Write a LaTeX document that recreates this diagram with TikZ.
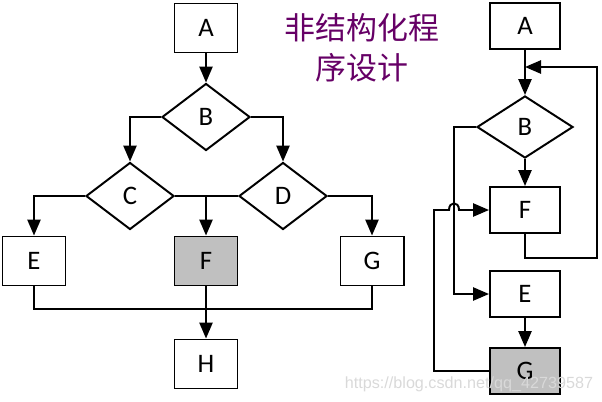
\documentclass[tikz,border=0pt]{standalone}
\usepackage{fontspec}
\setmainfont{Carlito}
\newfontfamily\cjkfont{Noto Sans CJK SC}
\newfontfamily\markfont{Liberation Sans}
\usetikzlibrary{arrows.meta,shapes.geometric}
\definecolor{titlepurple}{RGB}{102,0,102}
\definecolor{boxgray}{RGB}{192,192,192}
\tikzset{
    box/.style={draw, line width=1.4pt, inner sep=0pt, minimum width=1.575cm, minimum height=1.225cm, font=\fontsize{19}{19}\selectfont},
    rbox/.style={box, minimum width=1.75cm, minimum height=1.15cm},
    dia/.style={draw, diamond, line width=1.4pt, inner sep=0pt, minimum width=2.2cm, minimum height=1.675cm, font=\fontsize{19}{19}\selectfont},
    rdia/.style={dia, minimum width=2.4cm, minimum height=1.55cm},
    line/.style={line width=1.4pt},
    arr/.style={line, -{Triangle[length=0.4cm,width=0.33cm]}},
}

\begin{document}
\begin{tikzpicture}[x=0.025cm, y=-0.025cm]
\useasboundingbox (0,0) rectangle (602,401);

% left chart
\node[box] (la) at (206,28) {A};
\node[dia] (lb) at (206,117) {B};
\node[dia] (lc) at (130,196) {C};
\node[dia] (ld) at (283,196) {D};
\node[box] (le) at (34,261) {E};
\node[box, fill=boxgray] (lf) at (206,261) {F};
\node[box] (lg) at (372,261) {G};
\node[box] (lh) at (206,364) {H};
\coordinate (lj) at (206,309);

\draw[arr] (la) -- (lb);
\draw[arr] (lb.west) -| (lc.north);
\draw[arr] (lb.east) -| (ld.north);
\draw[arr] (lc.west) -| (le.north);
\draw[line] (lc.east) -- (ld.west);
\draw[arr] (lf.north |- lc.east) -- (lf);
\draw[arr] (ld.east) -| (lg.north);
\draw[line] (le.south) |- (lj) -| (lg.south);
\draw[arr] (lf) -- (lh);

% title
\node[text=titlepurple, align=center, font=\cjkfont\fontsize{22}{28.5}\selectfont] (title) at (362,48) {非结构化程\\序设计};

% right chart
\node[rbox] (ra) at (525,26) {A};
\node[rdia] (rb) at (525,127) {B};
\node[rbox] (rf) at (525,210) {F};
\node[rbox] (re) at (525,294) {E};
\node[rbox, fill=boxgray] (rg) at (525,371) {G};
\coordinate (rloop) at (525,67);
\coordinate (rk) at (597,258);
\coordinate (rl) at (454,294);
\coordinate (rn) at (434,371);
\coordinate (rh1) at (449,210);
\coordinate (rh2) at (459,210);

\draw[arr] (ra) -- (rb);
\draw[arr] (rf.south) |- (rk) |- (rloop);
\draw[arr] (rb) -- (rf);
\draw[arr] (rb.west) -| (rl) -- (re.west);
\draw[arr] (re) -- (rg);
\draw[arr] (rg.west) -- (rn) |- (rh1) .. controls (449,201) and (459,201) .. (rh2) -- (rf.west);

\node[text=black!15, font=\markfont\fontsize{11.5}{11.5}\selectfont, anchor=east] (mark) at (598,384) {https://blog.csdn.net/qq\_42739587};
\end{tikzpicture}
\end{document}
